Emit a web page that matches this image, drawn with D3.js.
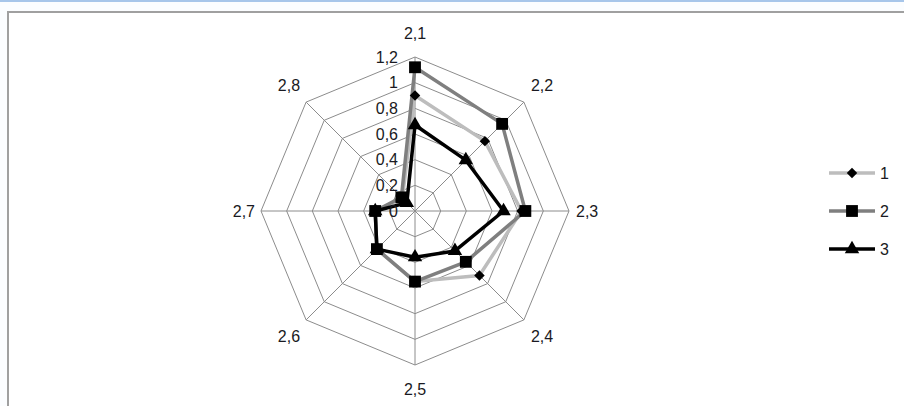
<!DOCTYPE html>
<html>
<head>
<meta charset="utf-8">
<script src="https://cdn.jsdelivr.net/npm/d3@7"></script>
<style>
  body { margin: 0; background: #fff; }
  svg text { font-family: "Liberation Sans", Arial, sans-serif; fill: #1a1a22; }
</style>
</head>
<body>
<div id="chart"></div>
<script>
// axis names around the radar
var axes = ["2,1", "2,2", "2,3", "2,4", "2,5", "2,6", "2,7", "2,8"];
// ring tick labels
var ticks = [0, 0.2, 0.4, 0.6, 0.8, 1, 1.2];
var tickLabels = ["0", "0,2", "0,4", "0,6", "0,8", "1", "1,2"];
// series
var seriesNames = ["1", "2", "3"];
var s1 = [0.9, 0.77, 0.83, 0.71, 0.55, 0.42, 0.31, 0.14];
var s2 = [1.12, 0.96, 0.86, 0.56, 0.55, 0.42, 0.31, 0.15];
var s3 = [0.67, 0.56, 0.69, 0.44, 0.36, 0.42, 0.31, 0.09];

function drawRadar() {
    var w = 904, h = 406;
    var cx = 415, cy = 211;

    var svg = d3.select("#chart").append("svg").attr("width", w).attr("height", h);

    // window chrome: thin blue line + gray frame
    svg.append("rect").attr("x", 0).attr("y", 0).attr("width", w).attr("height", h).attr("fill", "#fbfdff");
    svg.append("rect").attr("x", 0).attr("y", 0).attr("width", w).attr("height", 2).attr("fill", "#a7c6ea");
    svg.append("rect").attr("x", 8).attr("y", 12).attr("width", w).attr("height", h).attr("fill", "#fff")
        .attr("stroke", "#a0a0a0").attr("stroke-width", 2);

    var rScale = d3.scaleLinear().domain([0, 1.2]).range([0, 154]);
    var angle = d3.scaleLinear().domain([0, axes.length]).range([0, 2 * Math.PI]);

    function pt(i, v) {
        var a = angle(i);
        return [cx + rScale(v) * Math.sin(a), cy - rScale(v) * Math.cos(a)];
    }

    var grid = svg.append("g").attr("fill", "none").attr("stroke", "#8c8c8c").attr("stroke-width", 1);

    // rings
    ticks.slice(1).forEach(function (t) {
        var pts = axes.map(function (d, i) { return pt(i, t); });
        grid.append("path").attr("d", d3.line()(pts) + "Z");
    });
    // spokes
    axes.forEach(function (d, i) {
        grid.append("path").attr("d", d3.line()([pt(i, 0), pt(i, 1.2)]));
    });

    // axis labels
    axes.forEach(function (d, i) {
        var p = pt(i, 1.2);
        var a = angle(i);
        var off = 24;
        var x = p[0];
        var y = p[1] - off * Math.cos(a);
        var anchor = "middle";
        if (Math.sin(a) > 0.5) { anchor = "start"; x = p[0] + 7; }
        if (Math.sin(a) < -0.5) { anchor = "end"; x = p[0] - 6; }
        if (Math.abs(Math.sin(a)) > 0.99) { y = p[1]; }
        svg.append("text").attr("x", x).attr("y", y).attr("dy", "0.35em")
            .attr("text-anchor", anchor).attr("font-size", "16px").text(d);
    });

    // series lines
    var data = [s1, s2, s3];
    var colors = ["#bdbdbd", "#7f7f7f", "#000000"];
    var line = d3.line().curve(d3.curveLinearClosed);

    data.forEach(function (s, k) {
        svg.append("path")
            .attr("d", line(s.map(function (v, i) { return pt(i, v); })))
            .attr("fill", "none").attr("stroke", colors[k]).attr("stroke-width", 3.5)
            .attr("stroke-linejoin", "round");
    });

    var symbols = [d3.symbol().type(d3.symbolDiamond2).size(70),
                   d3.symbol().type(d3.symbolSquare).size(140),
                   d3.symbol().type(d3.symbolTriangle).size(90)];

    data.forEach(function (s, k) {
        svg.append("g").selectAll("path").data(s).enter().append("path")
            .attr("d", symbols[k])
            .attr("transform", function (v, i) {
                var p = pt(i, v);
                return "translate(" + p[0] + "," + p[1] + ")";
            })
            .attr("fill", "#000");
    });

    // ring tick labels left of the vertical axis
    ticks.forEach(function (t, i) {
        svg.append("text").attr("x", cx - 17).attr("y", cy - rScale(t)).attr("dy", "0.35em")
            .attr("text-anchor", "end").attr("font-size", "16px").text(tickLabels[i]);
    });

    // legend
    var lg = svg.append("g").attr("transform", "translate(829,173)");
    seriesNames.forEach(function (n, k) {
        var y = k * 38;
        lg.append("line").attr("x1", 0).attr("x2", 46).attr("y1", y).attr("y2", y)
            .attr("stroke", colors[k]).attr("stroke-width", 3.5);
        lg.append("path").attr("d", symbols[k]).attr("transform", "translate(23," + y + ")").attr("fill", "#000");
        lg.append("text").attr("x", 51).attr("y", y).attr("dy", "0.35em").attr("font-size", "16px").text(n);
    });
}

drawRadar();
</script>
</body>
</html>
